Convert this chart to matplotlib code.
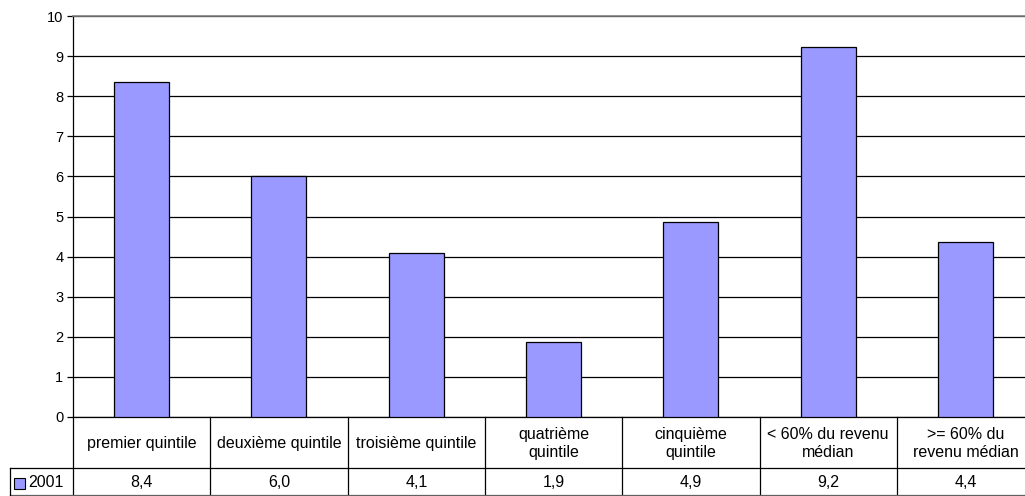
import matplotlib
matplotlib.use("Agg")
import matplotlib.pyplot as plt
from matplotlib.patches import Rectangle

categories = [
    "premier quintile",
    "deuxième quintile",
    "troisième quintile",
    "quatrième\nquintile",
    "cinquième\nquintile",
    "< 60% du revenu\nmédian",
    ">= 60% du\nrevenu médian",
]
values = [8.36, 6.0, 4.1, 1.86, 4.87, 9.22, 4.37]
series_name = "2001"
yticks = list(range(0, 11))

plt.rcParams["font.family"] = ["Liberation Sans", "DejaVu Sans"]
plt.rcParams["font.size"] = 11.5

W, H = 1025, 496
fig = plt.figure(figsize=(W / 100, H / 100), dpi=100)

# plot area (right side runs past the image edge, as in the reference)
cat_w = 137.3
x0, y0 = 73, 417
ax = fig.add_axes([x0 / W, (H - y0) / H, 7 * cat_w / W, (y0 - 16) / H])
n = len(categories)
xs = list(range(n))
ax.bar(xs, values, width=0.40, color="#9999FF", edgecolor="black", linewidth=0.9, zorder=3)
ax.set_xlim(-0.5, n - 0.5)
ax.set_ylim(0, 10)
ax.set_yticks(yticks)
ax.set_xticks([])
ax.yaxis.grid(True, color="black", linewidth=0.9)
ax.set_axisbelow(True)
ax.tick_params(axis="y", length=4, width=0.9, pad=3, colors="black", labelsize=10.5)
ax.spines["right"].set_visible(False)
ax.spines["top"].set_color("#808080")
ax.spines["top"].set_linewidth(1.2)
ax.spines["left"].set_linewidth(0.9)
ax.spines["bottom"].set_linewidth(0.9)

# data table below the plot
t_top, t_mid, t_bot = 417, 468, 495
axt = fig.add_axes([x0 / W, (H - t_bot) / H, 7 * cat_w / W, (t_bot - t_top) / H])
axt.set_xlim(-0.5, n - 0.5)
axt.set_ylim(t_bot, t_top)
axt.axis("off")

lc = "black"
lw = 0.9
left_cell = -0.5 - (x0 - 10) / cat_w
for k in range(n + 1):
    axt.plot([k - 0.5, k - 0.5], [t_top, t_bot], color=lc, lw=lw, clip_on=False)
axt.plot([left_cell, n - 0.5], [t_mid, t_mid], color=lc, lw=lw, clip_on=False)
axt.plot([left_cell, n - 0.5], [t_bot, t_bot], color="#606060", lw=lw, clip_on=False)
axt.plot([left_cell, left_cell], [t_mid, t_bot], color=lc, lw=lw, clip_on=False)

for i, (c, v) in enumerate(zip(categories, values)):
    axt.text(i, (t_top + t_mid) / 2 + 1, c, ha="center", va="center", linespacing=1.2)
    axt.text(i, (t_mid + t_bot) / 2 + 1, f"{v:.1f}".replace(".", ","), ha="center", va="center")

# legend key in the series cell
axt.add_patch(Rectangle((left_cell + 4 / cat_w, t_mid + 10), 11 / cat_w, 11,
                        facecolor="#9999FF", edgecolor="black", lw=0.8, clip_on=False))
axt.text(left_cell + 18 / cat_w, (t_mid + t_bot) / 2 + 1, series_name, ha="left", va="center")

fig.savefig("out.png", dpi=100)
